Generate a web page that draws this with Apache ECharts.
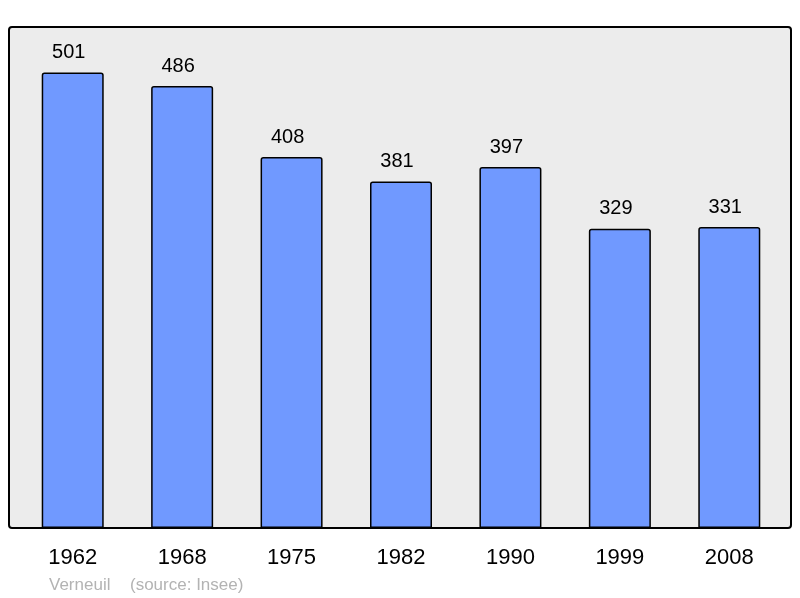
<!DOCTYPE html>
<html><head><meta charset="utf-8">
<script src="https://cdn.jsdelivr.net/npm/echarts@6/dist/echarts.min.js"></script>
<style>html,body{margin:0;padding:0;background:#fff}#c{width:800px;height:598px}</style>
</head><body><div id="c"></div>
<script>
const years = ['1962','1968','1975','1982','1990','1999','2008'];
const population = [501,486,408,381,397,329,331];
const title = 'Verneuil';
const source = '(source: Insee)';

const chart = echarts.init(document.getElementById('c'), null, {renderer:'canvas'});
chart.setOption({
  animation:false,
  backgroundColor:'#ffffff',
  graphic:[
    {type:'rect', z:-10, shape:{x:9,y:27,width:782,height:501,r:3}, style:{fill:'#ececec',stroke:'#000',lineWidth:2}},
    {type:'text', left:49, top:577, style:{text:title, fill:'#b3b3b3', font:'17px "Liberation Sans", Arial, sans-serif'}},
    {type:'text', left:130, top:577, style:{text:source, fill:'#b3b3b3', font:'17px "Liberation Sans", Arial, sans-serif'}}
  ],
  grid:{left:18, top:27, width:766, height:501, containLabel:false},
  xAxis:{type:'category', data:years,
    axisLine:{show:false}, axisTick:{show:false},
    axisLabel:{color:'#000', fontSize:22, fontFamily:'"Liberation Sans", Arial, sans-serif', margin:19}},
  yAxis:{type:'value', min:0, max:551, show:false, splitLine:{show:false}},
  series:[{type:'bar', data:population, barWidth:62,
    itemStyle:{color:'#7099ff', borderColor:'#000', borderWidth:1.5, borderRadius:[2,2,0,0]},
    label:{show:true, position:'top', distance:10, offset:[-4,0], color:'#000', fontSize:20, fontFamily:'"Liberation Sans", Arial, sans-serif'}
  }]
});
</script></body></html>
